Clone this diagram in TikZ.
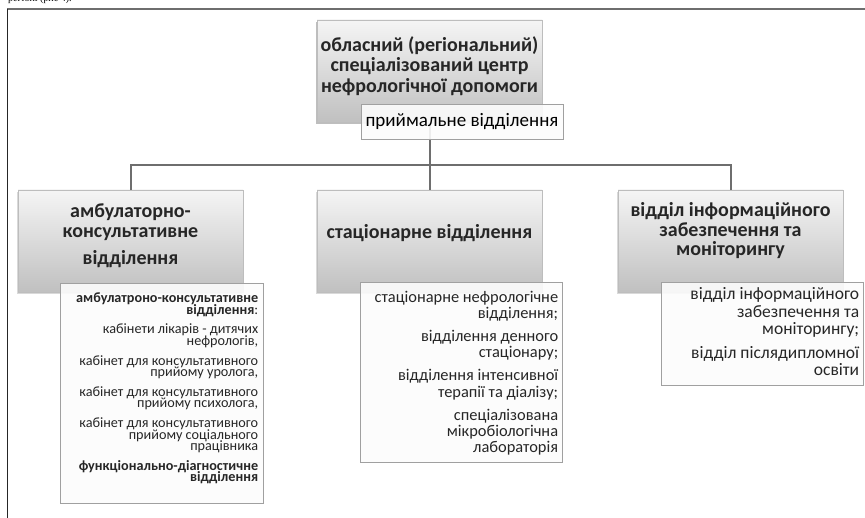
\documentclass[tikz,border=0pt]{standalone}
\usepackage{fontspec}
\setmainfont{Carlito}
\newfontfamily\serifcut{Liberation Serif}
\usetikzlibrary{shadows}
\definecolor{linegray}{HTML}{6E6E6E}
\definecolor{boxtop}{HTML}{F5F5F5}
\definecolor{boxbot}{HTML}{C0C0C0}
\definecolor{boxedge}{HTML}{BDBDBD}
\definecolor{detedge}{HTML}{A0A0A0}
\definecolor{txt}{HTML}{262626}
\newcommand{\tightfs}[2]{\fontsize{#1}{#2}\selectfont\lineskiplimit=-50pt\lineskip=0pt}
\begin{document}
\begin{tikzpicture}[x=1pt,y=-1pt,
  gbox/.style={draw=boxedge, line width=0.6pt, top color=boxtop, bottom color=boxbot,
    minimum width=225pt, minimum height=102pt, inner sep=0pt,
    drop shadow={opacity=0.3, shadow xshift=-1.5pt, shadow yshift=-2pt}},
  dbox/.style={draw=detedge, line width=0.7pt, fill=white, fill opacity=0.88, text opacity=1,
    inner sep=0pt, drop shadow={opacity=0.15, shadow xshift=1pt, shadow yshift=-1pt}},
  htext/.style={font=\bfseries\tightfs{20}{20}, align=center, text=txt, inner sep=0pt},
  dtext/.style={align=right, text=txt, inner sep=0pt, anchor=north east},
  conn/.style={draw=linegray, line width=2pt, line join=miter}
]
\useasboundingbox (0,0) rectangle (865,518);
% clipped line of text above the frame
\begin{scope}
  \clip (0,0) rectangle (865,6);
  \node[font=\serifcut\fontsize{10}{10}\selectfont, anchor=base west, inner sep=0pt, text=black] (cut) at (8,2) {регіоні (рис 4).};
\end{scope}
% frame
\coordinate (fa) at (7,9);
\coordinate (fb) at (865,9);
\coordinate (fc) at (7,518);
\draw[linegray, line width=2pt] (fa) -- (fb);
\draw[black!85, line width=1pt] (fa) -- (fc);

% nodes (boxes)
\node[gbox] (top) at (429.5,71) {};
\coordinate (bus) at (429.5,165);
\node[gbox] (amb) at (130.5,241) {};
\node[gbox] (stat) at (429.5,241) {};
\node[gbox] (info) at (730.5,241) {};

% connectors
\draw[conn] (top.center) -- (bus);
\draw[conn] (bus) -| (amb.north);
\draw[conn] (bus) -- (stat.north);
\draw[conn] (bus) -| (info.north);
\node[gbox] (topcover) at (top) {};
\node[htext, font=\bfseries\tightfs{20}{20.5}] (topt) at (429.5,66) {обласний (регіональний)\\спеціалізований центр\\нефрологічної допомоги};

\node[dbox, minimum width=202pt, minimum height=35pt, font=\fontsize{19}{19}\selectfont] (recv) at (462,121.5) {приймальне відділення};

\node[htext] (ambt) at (130.5,236) {амбулаторно-\\консультативне\\[7pt]відділення};
\node[htext] (statt) at (429.5,233) {стаціонарне відділення};
\node[htext, font=\bfseries\tightfs{20}{19.5}] (infot) at (730.5,231) {відділ інформаційного\\забезпечення та\\моніторингу};

% detail boxes
\node[dbox, minimum width=203pt, minimum height=220pt] (ambd) at (161.5,393) {};
\node[dtext, font=\tightfs{14.2}{11.6}] (ambdt) at ([xshift=-5pt,yshift=-10pt]ambd.north east)
  {\textbf{амбулатроно-консультативне}\\\textbf{відділення}:\\[8pt]
   кабінети лікарів - дитячих\\нефрологів,\\[8pt]
   кабінет для консультативного\\прийому уролога,\\[8pt]
   кабінет для консультативного\\прийому психолога,\\[8pt]
   кабінет для консультативного\\прийому соціального\\працівника\\[8pt]
   \textbf{функціонально-діагностичне}\\\textbf{відділення}};

\node[dbox, minimum width=202pt, minimum height=180pt] (statd) at (461,372) {};
\node[dtext, font=\tightfs{16.4}{16.2}] (statdt) at ([xshift=-4pt,yshift=-9pt]statd.north east)
  {стаціонарне нефрологічне\\відділення;\\[7pt]
   відділення денного\\стаціонару;\\[7pt]
   відділення інтенсивної\\терапії та діалізу;\\[7pt]
   спеціалізована\\мікробіологічна\\лабораторія};

\node[dbox, minimum width=202pt, minimum height=103pt] (infod) at (762,333.5) {};
\node[dtext, font=\tightfs{17.5}{17.5}] (infodt) at ([xshift=-4pt,yshift=-6pt]infod.north east)
  {відділ інформаційного\\забезпечення та\\моніторингу;\\[6pt]
   відділ післядипломної\\освіти};
\end{tikzpicture}
\end{document}
